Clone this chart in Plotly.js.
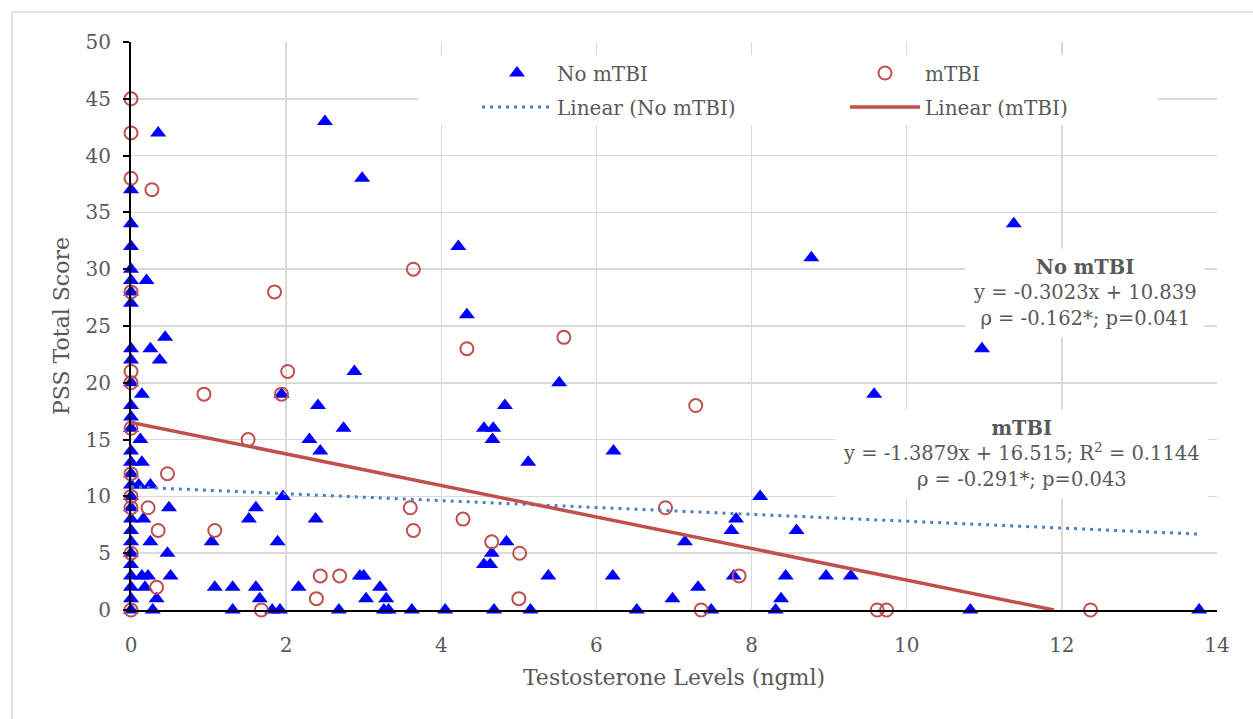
<!DOCTYPE html>
<html>
<head>
<meta charset="utf-8">
<script src="https://cdn.plot.ly/plotly-3.0.1.min.js"></script>
<style>html,body{margin:0;padding:0;background:#fff;}#chart{width:1253px;height:719px;}</style>
</head>
<body>
<div id="chart"></div>
<script>
// No mTBI (triangles)
const noMtbiX = [0,0,0,0,0,0,0,0,0,0,0,0,0,0,0,0,0,0,0,0,0,0,0,0,0,0,0,0,
  0.35,0.20,0.44,0.25,0.37,0.14,0.12,0.14,0.10,0.25,0.49,0.16,0.25,0.47,0.14,0.22,0.51,0.18,0.33,0.28,
  1.04,1.08,1.31,1.31,1.52,1.61,1.61,1.66,1.82,1.89,1.92,1.96,1.94,2.16,2.30,2.38,2.41,2.44,2.50,2.68,
  2.74,2.88,2.95,3.00,2.98,3.03,3.21,3.26,3.29,3.32,3.62,4.05,4.22,4.33,4.55,4.67,4.66,4.65,4.55,4.63,
  4.68,4.82,4.84,5.12,5.15,5.38,5.52,6.21,6.22,6.52,6.98,7.14,7.31,7.48,7.74,7.77,7.80,8.11,8.31,8.38,
  8.44,8.58,8.77,8.96,9.28,9.58,10.82,10.97,11.38,13.77];
const noMtbiY = [37,34,32,30,29,28,27,23,22,20,18,17,16,14,13,12,11,10,9,8,7,6,5,4,3,2,1,0,
  42,29,24,23,22,19,15,13,11,11,9,8,6,5,3,3,3,2,1,0,
  6,2,2,0,8,9,2,1,0,6,0,10,19,2,15,8,18,14,43,0,
  16,21,3,3,38,1,2,0,1,0,0,0,32,26,16,16,15,5,4,4,
  0,18,6,13,0,3,20,3,14,0,1,6,2,0,7,3,8,10,0,1,
  3,7,31,3,3,19,0,23,34,0];

// mTBI (open circles)
const mtbiX = [0,0,0,0,0,0,0,0,0,0,0,0,
  0.27,0.94,0.47,0.22,0.35,0.33,1.08,1.51,1.68,1.85,1.94,2.02,2.39,2.44,2.69,3.60,3.64,3.64,
  4.28,4.33,4.65,5.00,5.01,5.58,6.89,7.28,7.35,7.84,9.62,9.74,12.37];
const mtbiY = [45,42,38,28,21,20,16,12,10,9,5,0,
  37,19,12,9,7,2,7,15,0,28,19,21,1,3,3,9,7,30,
  8,23,6,1,5,24,9,18,0,3,0,0,0];

// Printed trendline equations
const noSlope = -0.3023, noIntercept = 10.839;
const mSlope = -1.3879, mIntercept = 16.515;

const xTickVals = [0,2,4,6,8,10,12,14];
const yTickVals = [0,5,10,15,20,25,30,35,40,45,50];

const noLineX = [Math.min(...noMtbiX), Math.max(...noMtbiX)];
const noLineY = noLineX.map(x => noSlope * x + noIntercept);
const mEnd = Math.min(Math.max(...mtbiX), -mIntercept / mSlope);
const mLineX = [Math.min(...mtbiX), mEnd];
const mLineY = mLineX.map(x => mSlope * x + mIntercept);

const FONT = 'DejaVu Serif, Liberation Serif, serif';
const GREY = '#595959';

const traces = [
  {x: noMtbiX, y: noMtbiY, type: 'scatter', mode: 'markers', name: 'No mTBI',
   marker: {symbol: 'triangle-up', size: 14, color: '#0000FF'}, cliponaxis: false, legend: 'legend'},
  {x: mtbiX, y: mtbiY, type: 'scatter', mode: 'markers', name: 'mTBI',
   marker: {symbol: 'circle-open', size: 13, color: '#C0504D', line: {width: 2, color: '#C0504D'}}, cliponaxis: false, legend: 'legend2'},
  {x: noLineX, y: noLineY, type: 'scatter', mode: 'lines', name: 'Linear (No mTBI)',
   line: {color: '#4F81BD', width: 3, dash: '3px,5px'}, legend: 'legend3'},
  {x: mLineX, y: mLineY, type: 'scatter', mode: 'lines', name: 'Linear (mTBI)',
   line: {color: '#C0504D', width: 3.5}, legend: 'legend4'}
];

const W = 1253, H = 719, L = 131, R = 36, T = 42, B = 109;
const pw = W - L - R, ph = H - T - B;
const px = v => (v - L) / pw;
const py = v => (H - B - v) / ph;

const legendCommon = {
  orientation: 'v', xref: 'paper', yref: 'paper', xanchor: 'left', yanchor: 'middle',
  bgcolor: 'rgba(0,0,0,0)', borderwidth: 0,
  itemwidth: 70, font: {family: FONT, size: 20, color: GREY}
};
const mkLegend = (lx, ly) => Object.assign({}, legendCommon, {x: px(lx), y: py(ly)});

const layout = {
  width: W, height: H,
  margin: {l: L, r: R, t: T, b: B},
  paper_bgcolor: '#ffffff', plot_bgcolor: '#ffffff',
  showlegend: true,
  legend: mkLegend(477, 73),
  legend2: mkLegend(845, 73),
  legend3: mkLegend(477, 107),
  legend4: mkLegend(845, 107),
  xaxis: {
    range: [0, 14], tickvals: xTickVals, ticks: '', showgrid: true, gridcolor: '#d9d9d9', gridwidth: 1.5,
    zeroline: false, showline: true, linecolor: '#000000', linewidth: 2,
    tickfont: {family: FONT, size: 20, color: GREY}, ticklabelstandoff: 16,
    title: {text: 'Testosterone Levels (ngml)', font: {family: FONT, size: 22, color: GREY}, standoff: 14}
  },
  yaxis: {
    range: [0, 50], tickvals: yTickVals, ticks: 'outside', ticklen: 6, tickwidth: 2, tickcolor: '#000000',
    showgrid: true, gridcolor: '#d9d9d9', gridwidth: 1.5,
    zeroline: false, showline: true, linecolor: '#000000', linewidth: 2,
    tickfont: {family: FONT, size: 20, color: GREY}, ticklabelstandoff: 8,
    title: {text: 'PSS Total Score', font: {family: FONT, size: 22, color: GREY}, standoff: 10}
  },
  shapes: [
    {type: 'rect', xref: 'paper', yref: 'paper', x0: px(12), x1: px(1262), y0: py(728), y1: py(12),
     line: {color: '#d9d9d9', width: 1.5}, fillcolor: 'rgba(0,0,0,0)', layer: 'below'},
    {type: 'rect', xref: 'paper', yref: 'paper', x0: px(418), x1: px(1158), y0: py(125), y1: py(55),
     line: {width: 0}, fillcolor: '#ffffff', layer: 'above'}
  ],
  annotations: [
    {xref: 'paper', yref: 'paper', x: px(1085), y: py(292.5), xanchor: 'center', yanchor: 'middle',
     showarrow: false, align: 'center', bgcolor: '#ffffff', borderpad: 7,
     font: {family: FONT, size: 19.5, color: GREY},
     text: '<b>No mTBI</b><br>y = -0.3023x + 10.839<br>ρ = -0.162*; p=0.041'},
    {xref: 'paper', yref: 'paper', x: px(1021.5), y: py(453.5), xanchor: 'center', yanchor: 'middle',
     showarrow: false, align: 'center', bgcolor: '#ffffff', borderpad: 7,
     font: {family: FONT, size: 19.5, color: GREY},
     text: '<b>mTBI</b><br>y = -1.3879x + 16.515; R<sup>2</sup> = 0.1144<br>ρ = -0.291*; p=0.043'}
  ]
};

Plotly.newPlot('chart', traces, layout, {displayModeBar: false, staticPlot: true});
</script>
</body>
</html>
